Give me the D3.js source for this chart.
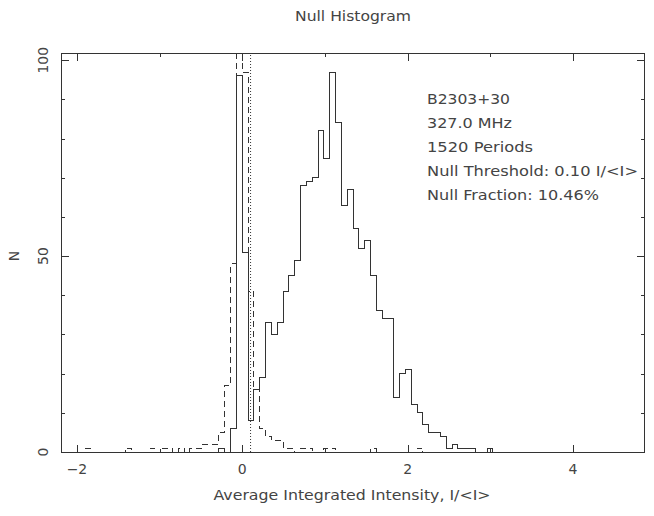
<!DOCTYPE html>
<html><head><meta charset="utf-8">
<script src="https://cdn.jsdelivr.net/npm/d3@7"></script>
<style>
body{margin:0;background:#fff}
svg{display:block}
text{font-family:"DejaVu Sans",sans-serif;fill:#444;font-size:14px}
</style>
</head><body><svg id="c" width="654" height="516"></svg>
<script>
// ---- data ----
const binStart = -1.974;   // left edge of the first bin, I/<I>
const binWidth = 0.0705;   // bin width, I/<I>
// on-pulse histogram (solid), bins k = -28 .. 43
const onPulseCounts = [
  0,0,0,0,0,0,0,0,0,0,
  0,0,0,0,0,0,0,0,0,0,
  0,0,0,0,1,0,6,96,51,8,
  16,19,33,30,33,41,45,49,68,69,
  70,82,75,97,84,63,67,57,52,54,
  45,36,34,34,14,20,21,12,10,7,
  5,5,4,1,2,1,1,1,0,0,1,0
];
// off-pulse histogram (dashed), same bins (central bin runs off the top)
const offPulseCounts = [
  0,1,0,0,0,0,0,0,1,0,
  0,0,1,0,1,1,0,1,0,1,
  1,2,2,2,5,17,48,1258,97,41,
  16,6,4,3,3,1,1,0,1,1,
  0,0,1,1,0,0,0,0,0,0,
  1,0,0,0,0,0,0,0,1,0,
  0,0,0,0,0,0,0,0,0,0,0,0
];
const nullThreshold = 0.10;
const xMajorTicks = [-2, 0, 2, 4];
const xTickLabels = ["\u22122", "0", "2", "4"];
const xMinorTicks = [-1, 1, 3];
const yMajorTicks = [0, 50, 100];
const yTickLabels = ["0", "50", "100"];
const yMinorTicks = [10, 20, 30, 40, 60, 70, 80, 90];
const titleText = "Null Histogram";
const xLabelText = "Average Integrated Intensity, I/<I>";
const yLabelText = "N";
const infoLines = ["B2303+30", "327.0 MHz", "1520 Periods", "Null Threshold: 0.10 I/<I>", "Null Fraction: 10.46%"];
const xDomain = [-2.193, 4.859];
const yDomain = [0, 101.85];

// ---- layout ----
const L = 61, R = 644, T = 53, B = 452;
const svg = d3.select("#c");
const x = d3.scaleLinear().domain(xDomain).range([L, R]);
const y = d3.scaleLinear().domain(yDomain).range([B, T]);
const ink = "#333";

svg.append("defs").append("clipPath").attr("id", "frame")
  .append("rect").attr("x", L).attr("y", T).attr("width", R - L).attr("height", B - T);

function stepPath(counts) {
  const p = d3.path();
  p.moveTo(x(binStart), y(0));
  counts.forEach((c, i) => {
    const x0 = binStart + i * binWidth, x1 = x0 + binWidth;
    p.lineTo(x(x0), y(c));
    p.lineTo(x(x1), y(c));
  });
  p.lineTo(x(binStart + counts.length * binWidth), y(0));
  return p.toString();
}

const plot = svg.append("g").attr("clip-path", "url(#frame)");
plot.append("path").attr("d", stepPath(offPulseCounts))
  .attr("fill", "none").attr("stroke", ink).attr("stroke-width", 1)
  .attr("stroke-dasharray", "6,4").attr("shape-rendering", "crispEdges");
plot.append("path").attr("d", stepPath(onPulseCounts))
  .attr("fill", "none").attr("stroke", ink).attr("stroke-width", 1)
  .attr("shape-rendering", "crispEdges");
plot.append("line")
  .attr("x1", x(nullThreshold)).attr("x2", x(nullThreshold))
  .attr("y1", y(0)).attr("y2", T)
  .attr("stroke", ink).attr("stroke-width", 1).attr("stroke-dasharray", "1,2");

// ---- axes: ticks on all four sides, pointing inwards ----
function ticks(axisGen, tr) {
  const g = svg.append("g").attr("transform", tr).call(axisGen);
  g.select(".domain").remove();
  g.selectAll("line").attr("stroke", ink).attr("shape-rendering", "crispEdges");
  return g;
}
const maj = 7.5, min = 3.5;
ticks(d3.axisBottom(x).tickValues(xMajorTicks).tickSize(-maj).tickFormat(""), `translate(0,${B})`);
ticks(d3.axisBottom(x).tickValues(xMinorTicks).tickSize(-min).tickFormat(""), `translate(0,${B})`);
ticks(d3.axisTop(x).tickValues(xMajorTicks).tickSize(-maj).tickFormat(""), `translate(0,${T})`);
ticks(d3.axisTop(x).tickValues(xMinorTicks).tickSize(-min).tickFormat(""), `translate(0,${T})`);
ticks(d3.axisLeft(y).tickValues(yMajorTicks).tickSize(-maj).tickFormat(""), `translate(${L},0)`);
ticks(d3.axisLeft(y).tickValues(yMinorTicks).tickSize(-min).tickFormat(""), `translate(${L},0)`);
ticks(d3.axisRight(y).tickValues(yMajorTicks).tickSize(-maj).tickFormat(""), `translate(${R},0)`);
ticks(d3.axisRight(y).tickValues(yMinorTicks).tickSize(-min).tickFormat(""), `translate(${R},0)`);

svg.append("rect").attr("x", L).attr("y", T).attr("width", R - L).attr("height", B - T)
  .attr("fill", "none").attr("stroke", ink).attr("stroke-width", 1).attr("shape-rendering", "crispEdges");

// tick labels
svg.append("g").selectAll("text").data(xMajorTicks).join("text")
  .attr("x", d => x(d)).attr("y", 474).attr("text-anchor", "middle")
  .text((d, i) => xTickLabels[i]);
svg.append("g").selectAll("text").data(yMajorTicks).join("text")
  .attr("transform", d => `translate(48,${y(d)}) rotate(-90)`)
  .attr("text-anchor", "middle")
  .text((d, i) => yTickLabels[i]);

// titles
svg.append("text").attr("x", 353).attr("y", 21).attr("text-anchor", "middle")
  .attr("textLength", 116).attr("lengthAdjust", "spacingAndGlyphs").text(titleText);
svg.append("text").attr("x", 352).attr("y", 500).attr("text-anchor", "middle")
  .attr("textLength", 277).attr("lengthAdjust", "spacingAndGlyphs").text(xLabelText);
svg.append("text").attr("transform", `translate(19,${y(50)}) rotate(-90)`)
  .attr("text-anchor", "middle").text(yLabelText);

// info block
const infoWidths = [83, 85, 106, 211, 172];
const infoBase = [104, 128, 152, 176, 200];
svg.append("g").selectAll("text").data(infoLines).join("text")
  .attr("x", 427).attr("y", (d, i) => infoBase[i])
  .attr("textLength", (d, i) => infoWidths[i]).attr("lengthAdjust", "spacingAndGlyphs")
  .text(d => d);
</script>
</body></html>
